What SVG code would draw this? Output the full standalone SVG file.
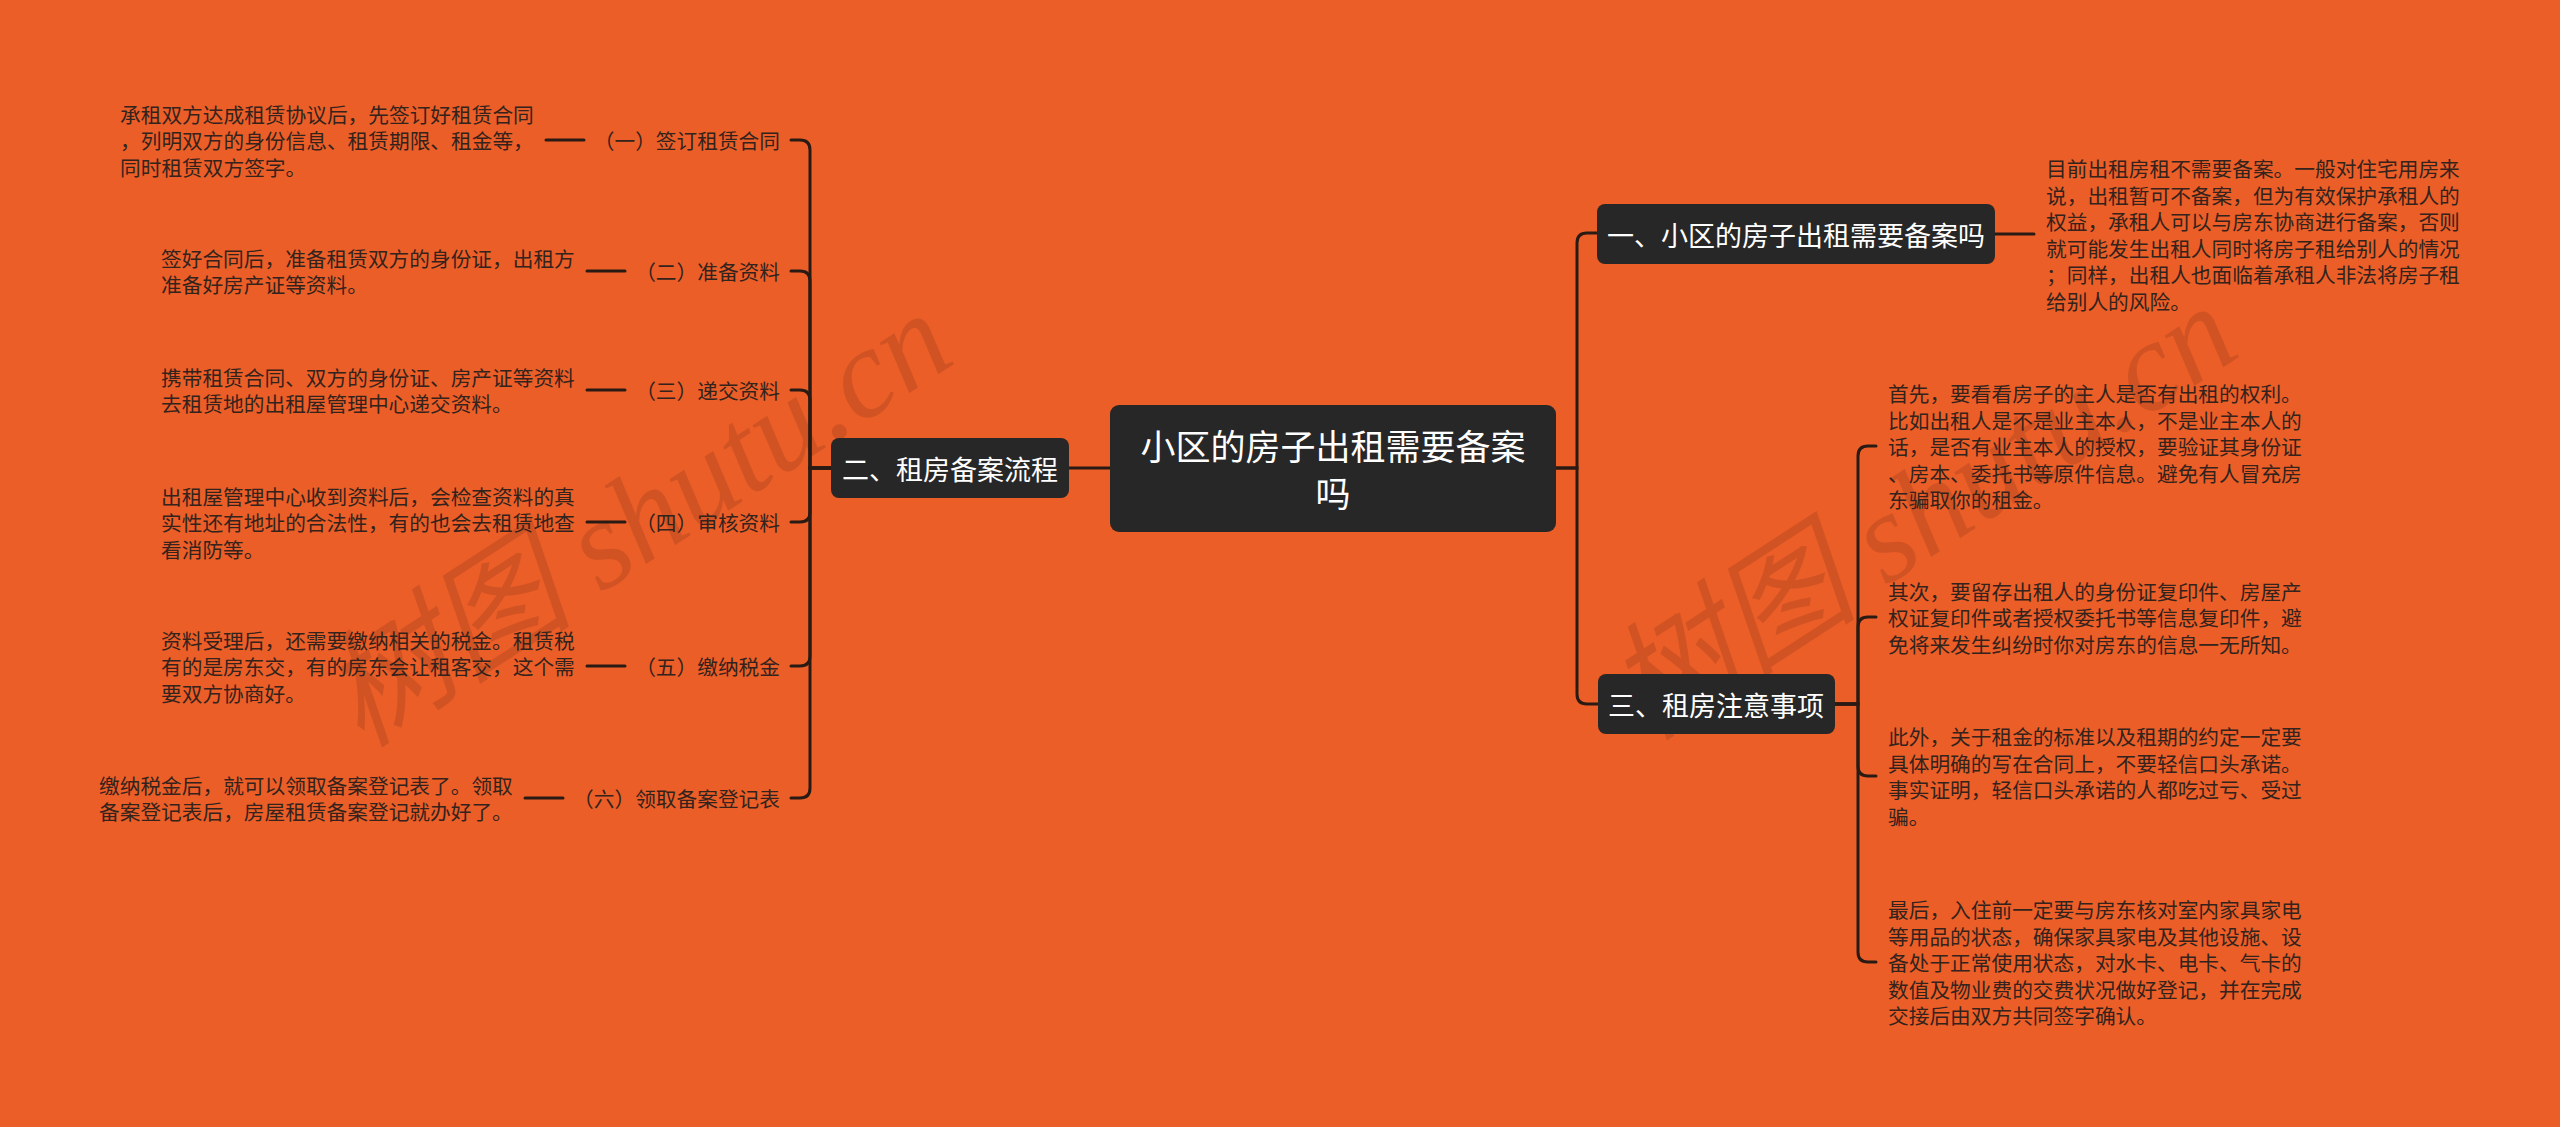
<svg xmlns="http://www.w3.org/2000/svg" width="2560" height="1127" viewBox="0 0 2560 1127">
<style>
.bg{fill:#EB5E28}
.node rect{fill:#272727}
.nt{fill:#ffffff;font-family:"Noto Sans CJK SC","Noto Sans",sans-serif;dominant-baseline:central}
.t{fill:#33231c;font-family:"Noto Sans CJK SC","Noto Sans",sans-serif;font-size:20.7px;dominant-baseline:central}
.c{fill:none;stroke:#2a1a14;stroke-width:3;stroke-linecap:round}
.wm{fill:#7a2e14;opacity:0.22;font-family:"Liberation Serif","Noto Sans CJK SC",serif;font-style:italic;font-size:127px}
</style>
<rect class="bg" x="0" y="0" width="2560" height="1127"/>
<g id="watermarks">
<text class="wm" x="660" y="555" text-anchor="middle" transform="rotate(-33 660 555)">树图 shutu.cn</text>
<text class="wm" x="1945" y="548" text-anchor="middle" transform="rotate(-33 1945 548)">树图 shutu.cn</text>
</g>
<g id="connectors">
<path class="c" d="M1110 468 H1069"/>
<path class="c" d="M1556 468 H1577 V243 Q1577 233 1587 233 H1597"/>
<path class="c" d="M1556 468 H1577 V694 Q1577 704 1587 704 H1598"/>
<path class="c" d="M1995 234 H2034"/>
<path class="c" d="M831 468 H810 V150 Q810 140 800 140 H791"/>
<path class="c" d="M831 468 H810 V281 Q810 271 800 271 H791"/>
<path class="c" d="M831 468 H810 V400 Q810 390 800 390 H791"/>
<path class="c" d="M831 468 H810 V512 Q810 522 800 522 H791"/>
<path class="c" d="M831 468 H810 V656 Q810 666 800 666 H791"/>
<path class="c" d="M831 468 H810 V788 Q810 798 800 798 H791"/>
<path class="c" d="M546 140 H584"/>
<path class="c" d="M587 271 H625"/>
<path class="c" d="M587 390 H625"/>
<path class="c" d="M587 522 H625"/>
<path class="c" d="M587 666 H625"/>
<path class="c" d="M525 798 H563"/>
<path class="c" d="M1835 704 H1858 V456 Q1858 446 1868 446 H1876"/>
<path class="c" d="M1835 704 H1858 V627 Q1858 617 1868 617 H1876"/>
<path class="c" d="M1835 704 H1858 V766 Q1858 776 1868 776 H1876"/>
<path class="c" d="M1835 704 H1858 V952 Q1858 962 1868 962 H1876"/>
</g>
<g id="root" class="node">
<rect x="1110" y="405" width="446" height="127" rx="9"/>
<text class="nt" x="1333" y="444" font-size="35" text-anchor="middle">小区的房子出租需要备案</text>
<text class="nt" x="1333" y="491" font-size="35" text-anchor="middle">吗</text>
</g>
<g id="n-liucheng" class="node">
<rect x="831" y="438" width="238" height="60" rx="8"/>
<text class="nt" x="950" y="468" font-size="27" text-anchor="middle">二、租房备案流程</text>
</g>
<g id="n-beian" class="node">
<rect x="1597" y="204" width="398" height="60" rx="8"/>
<text class="nt" x="1796" y="234" font-size="27" text-anchor="middle">一、小区的房子出租需要备案吗</text>
</g>
<g id="n-zhuyi" class="node">
<rect x="1598" y="674" width="237" height="60" rx="8"/>
<text class="nt" x="1716" y="704" font-size="27" text-anchor="middle">三、租房注意事项</text>
</g>
<g id="d-beian">
<text class="t" x="2046" y="168">目前出租房租不需要备案。一般对住宅用房来</text>
<text class="t" x="2046" y="194.5">说，出租暂可不备案，但为有效保护承租人的</text>
<text class="t" x="2046" y="221">权益，承租人可以与房东协商进行备案，否则</text>
<text class="t" x="2046" y="247.5">就可能发生出租人同时将房子租给别人的情况</text>
<text class="t" x="2046" y="274">；同样，出租人也面临着承租人非法将房子租</text>
<text class="t" x="2046" y="300.5">给别人的风险。</text>
</g>
<g id="s1">
<text class="t" x="780" y="140" text-anchor="end">（一）签订租赁合同</text>
</g>
<g id="d1">
<text class="t" x="120" y="113.5">承租双方达成租赁协议后，先签订好租赁合同</text>
<text class="t" x="120" y="140">，列明双方的身份信息、租赁期限、租金等，</text>
<text class="t" x="120" y="166.5">同时租赁双方签字。</text>
</g>
<g id="s2">
<text class="t" x="780" y="271" text-anchor="end">（二）准备资料</text>
</g>
<g id="d2">
<text class="t" x="161" y="257.75">签好合同后，准备租赁双方的身份证，出租方</text>
<text class="t" x="161" y="284.25">准备好房产证等资料。</text>
</g>
<g id="s3">
<text class="t" x="780" y="390" text-anchor="end">（三）递交资料</text>
</g>
<g id="d3">
<text class="t" x="161" y="376.75">携带租赁合同、双方的身份证、房产证等资料</text>
<text class="t" x="161" y="403.25">去租赁地的出租屋管理中心递交资料。</text>
</g>
<g id="s4">
<text class="t" x="780" y="522" text-anchor="end">（四）审核资料</text>
</g>
<g id="d4">
<text class="t" x="161" y="495.5">出租屋管理中心收到资料后，会检查资料的真</text>
<text class="t" x="161" y="522">实性还有地址的合法性，有的也会去租赁地查</text>
<text class="t" x="161" y="548.5">看消防等。</text>
</g>
<g id="s5">
<text class="t" x="780" y="666" text-anchor="end">（五）缴纳税金</text>
</g>
<g id="d5">
<text class="t" x="161" y="639.5">资料受理后，还需要缴纳相关的税金。租赁税</text>
<text class="t" x="161" y="666">有的是房东交，有的房东会让租客交，这个需</text>
<text class="t" x="161" y="692.5">要双方协商好。</text>
</g>
<g id="s6">
<text class="t" x="780" y="798" text-anchor="end">（六）领取备案登记表</text>
</g>
<g id="d6">
<text class="t" x="99" y="784.75">缴纳税金后，就可以领取备案登记表了。领取</text>
<text class="t" x="99" y="811.25">备案登记表后，房屋租赁备案登记就办好了。</text>
</g>
<g id="z1">
<text class="t" x="1888" y="393">首先，要看看房子的主人是否有出租的权利。</text>
<text class="t" x="1888" y="419.5">比如出租人是不是业主本人，不是业主本人的</text>
<text class="t" x="1888" y="446">话，是否有业主本人的授权，要验证其身份证</text>
<text class="t" x="1888" y="472.5">、房本、委托书等原件信息。避免有人冒充房</text>
<text class="t" x="1888" y="499">东骗取你的租金。</text>
</g>
<g id="z2">
<text class="t" x="1888" y="590.5">其次，要留存出租人的身份证复印件、房屋产</text>
<text class="t" x="1888" y="617">权证复印件或者授权委托书等信息复印件，避</text>
<text class="t" x="1888" y="643.5">免将来发生纠纷时你对房东的信息一无所知。</text>
</g>
<g id="z3">
<text class="t" x="1888" y="736.25">此外，关于租金的标准以及租期的约定一定要</text>
<text class="t" x="1888" y="762.75">具体明确的写在合同上，不要轻信口头承诺。</text>
<text class="t" x="1888" y="789.25">事实证明，轻信口头承诺的人都吃过亏、受过</text>
<text class="t" x="1888" y="815.75">骗。</text>
</g>
<g id="z4">
<text class="t" x="1888" y="909">最后，入住前一定要与房东核对室内家具家电</text>
<text class="t" x="1888" y="935.5">等用品的状态，确保家具家电及其他设施、设</text>
<text class="t" x="1888" y="962">备处于正常使用状态，对水卡、电卡、气卡的</text>
<text class="t" x="1888" y="988.5">数值及物业费的交费状况做好登记，并在完成</text>
<text class="t" x="1888" y="1015">交接后由双方共同签字确认。</text>
</g>
</svg>
